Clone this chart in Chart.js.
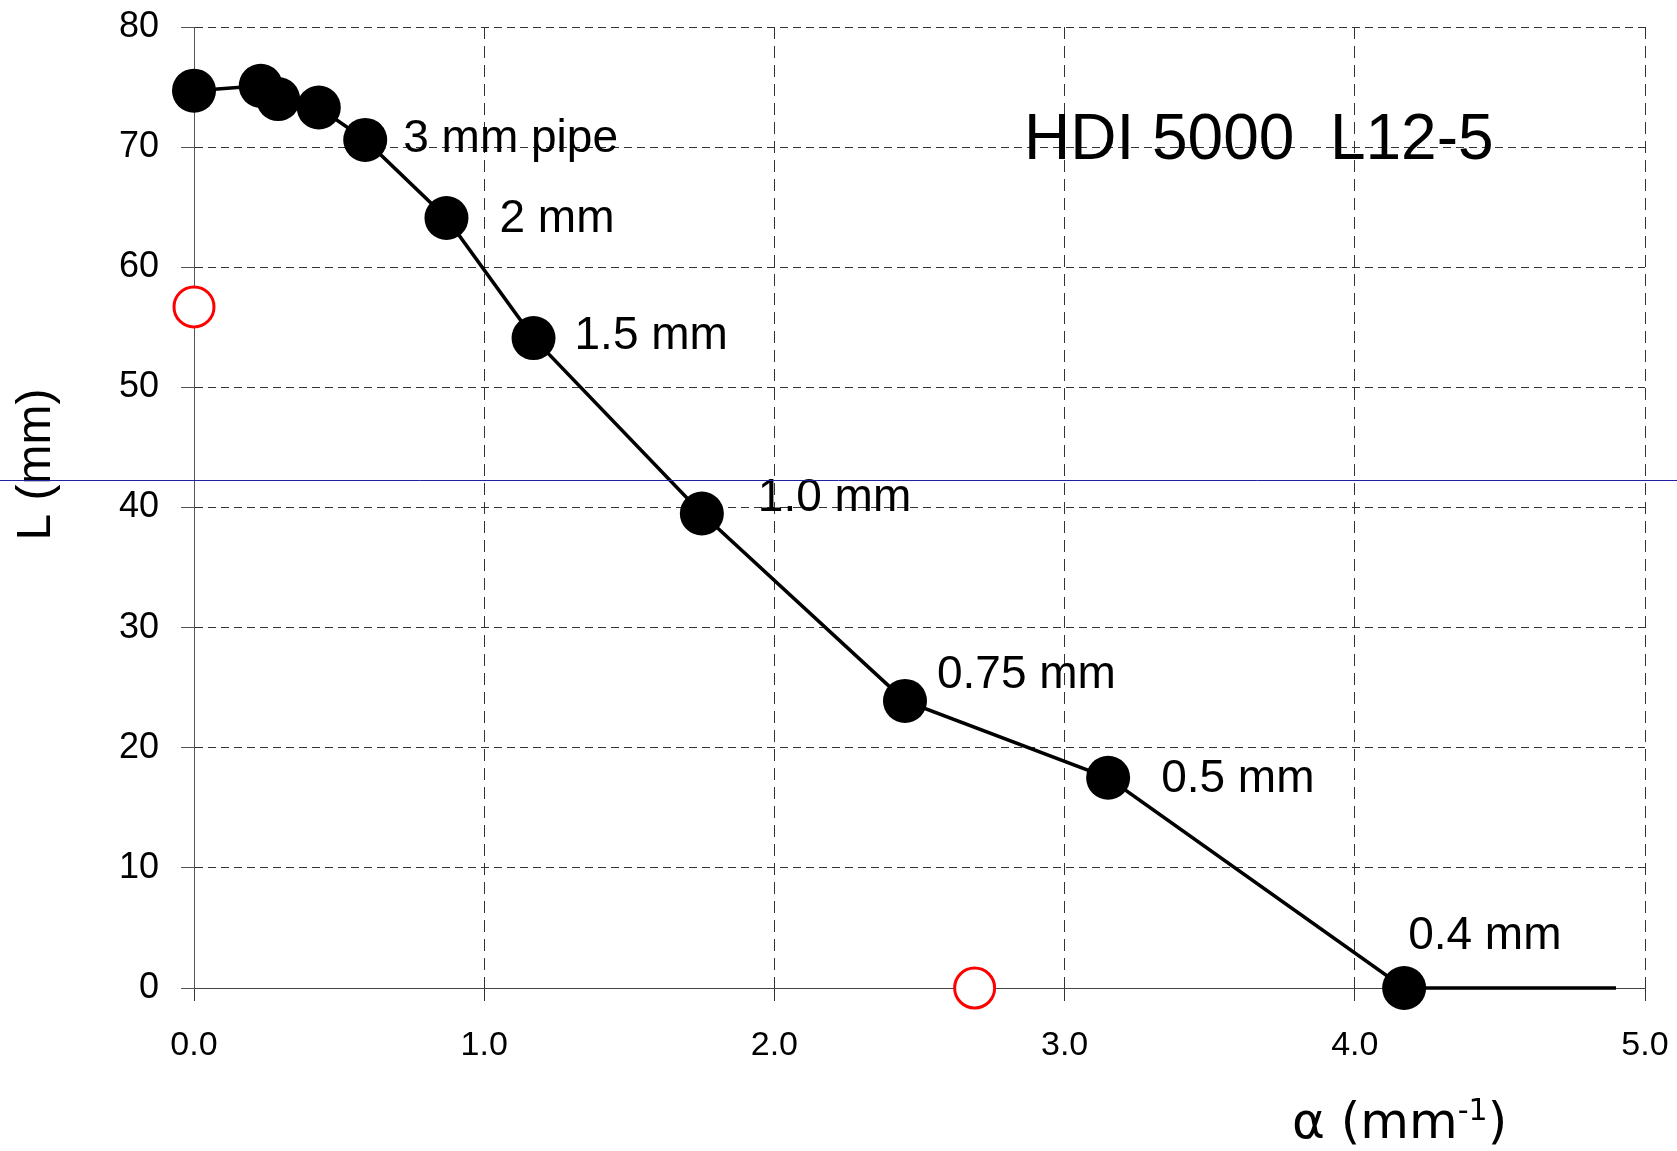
<!DOCTYPE html>
<html>
<head>
<meta charset="utf-8">
<script src="https://cdn.jsdelivr.net/npm/chart.js@4.4.1/dist/chart.umd.min.js"></script>
<style>
  html, body { margin: 0; padding: 0; background: #ffffff; }
  #wrap { width: 1677px; height: 1151px; }
</style>
</head>
<body>
<div id="wrap"><canvas id="c" width="1677" height="1151"></canvas></div>
<script>
// ---- data ----
const alphaValues = [0.00, 0.23, 0.29, 0.43, 0.59, 0.87, 1.17, 1.75, 2.45, 3.15, 4.17];
const lengthValues = [74.7, 75.1, 74.0, 73.3, 70.6, 64.1, 54.1, 39.5, 23.9, 17.5, 0.0];
const lineEndAlpha = 4.90;
const lineEndLength = 0.0;
const pipeLabels = ['', '', '', '', '3 mm pipe', '2 mm', '1.5 mm', '1.0 mm', '0.75 mm', '0.5 mm', '0.4 mm'];
const openAlpha = [0.00, 2.69];
const openLength = [56.7, 0.0];
const referenceLength = 42.3;
const xTickLabels = ['0.0', '1.0', '2.0', '3.0', '4.0', '5.0'];
const yTickLabels = ['0', '10', '20', '30', '40', '50', '60', '70', '80'];
const chartTitle = 'HDI 5000  L12-5';
const titleAnchor = { alpha: 2.86, length: 70.5 };

// ---- styling (not data) ----
const FONT = '"Liberation Sans", Arial, sans-serif';
const labelOffsets = [null, null, null, null, [38, -1], [53, 1], [41, -2], [56, -15], [32, -26], [53, 2], [4, -52]];

const mainPoints = alphaValues.map((a, i) => ({ x: a, y: lengthValues[i] }));
mainPoints.push({ x: lineEndAlpha, y: lineEndLength });
const mainRadius = alphaValues.map(() => 22).concat([0]);
const openPoints = openAlpha.map((a, i) => ({ x: a, y: openLength[i] }));

const overlayPlugin = {
  id: 'overlay',
  afterDatasetsDraw(chart) {
    const ctx = chart.ctx;
    const meta = chart.getDatasetMeta(0);
    const xs = chart.scales.x, ys = chart.scales.y;
    ctx.save();
    ctx.fillStyle = '#000';
    ctx.font = '46px ' + FONT;
    ctx.textAlign = 'left';
    ctx.textBaseline = 'middle';
    pipeLabels.forEach((t, i) => {
      if (!t) return;
      const el = meta.data[i];
      const off = labelOffsets[i];
      ctx.fillText(t, el.x + off[0], el.y + off[1]);
    });
    // chart title inside plot
    ctx.font = '64px ' + FONT;
    ctx.fillText(chartTitle, xs.getPixelForValue(titleAnchor.alpha), ys.getPixelForValue(titleAnchor.length));
    ctx.restore();
  },
  afterDraw(chart) {
    const ctx = chart.ctx;
    const ys = chart.scales.y;
    const ca = chart.chartArea;
    ctx.save();
    // y axis title (rotated)
    ctx.fillStyle = '#000';
    ctx.font = '48px ' + FONT;
    ctx.translate(50, (ca.top + ca.bottom) / 2 - 43);
    ctx.rotate(-Math.PI / 2);
    ctx.textAlign = 'center';
    ctx.textBaseline = 'alphabetic';
    ctx.fillText('L (mm)', 0, 0);
    ctx.restore();

    // x axis title with superscript
    ctx.save();
    ctx.fillStyle = '#000';
    ctx.textBaseline = 'alphabetic';
    ctx.textAlign = 'left';
    let x = ca.right - 353;
    const base = 1138;
    ctx.font = '50px "DejaVu Sans", sans-serif';
    const p1 = '\u03B1 (mm';
    ctx.fillText(p1, x, base);
    x += ctx.measureText(p1).width;
    ctx.font = '30px "DejaVu Sans", sans-serif';
    ctx.fillText('-1', x, base - 18);
    x += ctx.measureText('-1').width;
    ctx.font = '50px "DejaVu Sans", sans-serif';
    ctx.fillText(')', x, base);
    ctx.restore();

    // blue reference line across full width
    ctx.save();
    const yp = Math.round(ys.getPixelForValue(referenceLength)) + 0.5;
    ctx.strokeStyle = '#1f1fa8';
    ctx.lineWidth = 1;
    ctx.beginPath();
    ctx.moveTo(0, yp);
    ctx.lineTo(chart.width, yp);
    ctx.stroke();
    ctx.restore();
  }
};

new Chart(document.getElementById('c'), {
  type: 'scatter',
  data: {
    datasets: [
      {
        data: mainPoints,
        showLine: true,
        borderColor: '#000',
        borderWidth: 3.5,
        pointRadius: mainRadius,
        pointHoverRadius: mainRadius,
        pointBackgroundColor: '#000',
        pointBorderColor: '#000',
        pointBorderWidth: 0,
        clip: false,
        order: 2
      },
      {
        data: openPoints,
        showLine: false,
        pointRadius: 20,
        pointBackgroundColor: '#fff',
        pointBorderColor: '#ff0000',
        pointBorderWidth: 3,
        clip: false,
        order: 1
      }
    ]
  },
  options: {
    responsive: false,
    animation: false,
    devicePixelRatio: 1,
    layout: { padding: { top: 27, right: 32, left: 0, bottom: 0 } },
    plugins: { legend: { display: false }, tooltip: { enabled: false }, title: { display: false } },
    scales: {
      x: {
        type: 'linear',
        min: 0, max: 5,
        afterFit(s) { s.height = 163; s.paddingLeft = 0; s.paddingRight = 0; },
        ticks: {
          stepSize: 1,
          color: '#000',
          font: { family: FONT, size: 34 },
          padding: 23,
          maxRotation: 0,
          callback: (v, i) => xTickLabels[i]
        },
        grid: {
          color: (c) => (c.tick && c.tick.value === 0) ? 'rgba(0,0,0,0)' : '#333',
          lineWidth: 1,
          tickLength: 14,
          tickColor: '#333',
          tickBorderDash: [12, 7]
        },
        border: { display: true, color: '#444', width: 1, dash: [12, 7] }
      },
      y: {
        type: 'linear',
        min: 0, max: 80,
        afterFit(s) { s.width = 194; s.paddingTop = 0; s.paddingBottom = 0; },
        ticks: {
          stepSize: 10,
          color: '#000',
          font: { family: FONT, size: 36 },
          padding: 22,
          callback: (v, i) => yTickLabels[i]
        },
        grid: {
          color: (c) => (c.tick && c.tick.value === 0) ? 'rgba(0,0,0,0)' : '#333',
          lineWidth: 1,
          tickLength: 13,
          tickColor: '#555'
        },
        border: { display: true, color: '#555', width: 1, dash: [8, 5] }
      }
    }
  },
  plugins: [overlayPlugin]
});
</script>
</body>
</html>
